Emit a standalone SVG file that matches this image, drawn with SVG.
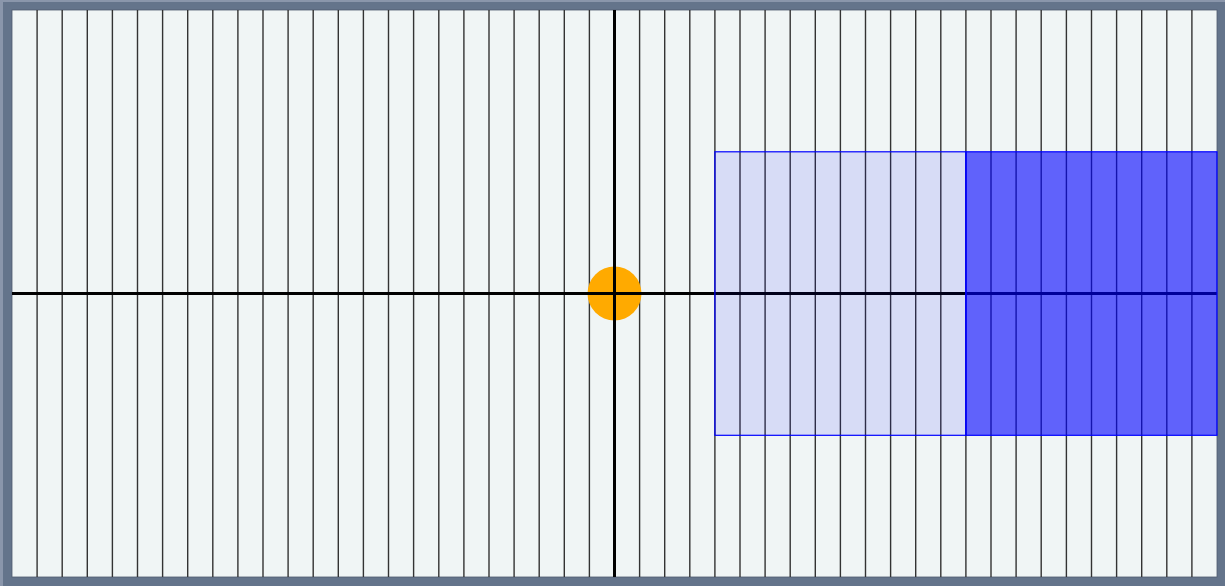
<svg xmlns="http://www.w3.org/2000/svg" width="1225" height="586" viewBox="0 0 1225 586">
<style>
.grid line{stroke:#333;stroke-width:1.4}
.axis{stroke:#000;stroke-width:3}
.zone{stroke:#0000ff;stroke-width:1.2}
</style>
<rect x="0" y="0" width="1225" height="586" fill="#8a96ab"/>
<rect x="3" y="2" width="1222" height="584" fill="#64748b"/>
<rect x="12" y="10" width="1205" height="567" fill="#f0f5f5" stroke="#4f5b6e" stroke-width="0.8"/>
<g class="grid" id="grid">
<line x1="37.1" y1="10" x2="37.1" y2="577"/>
<line x1="62.2" y1="10" x2="62.2" y2="577"/>
<line x1="87.3" y1="10" x2="87.3" y2="577"/>
<line x1="112.4" y1="10" x2="112.4" y2="577"/>
<line x1="137.5" y1="10" x2="137.5" y2="577"/>
<line x1="162.6" y1="10" x2="162.6" y2="577"/>
<line x1="187.7" y1="10" x2="187.7" y2="577"/>
<line x1="212.8" y1="10" x2="212.8" y2="577"/>
<line x1="237.9" y1="10" x2="237.9" y2="577"/>
<line x1="263.0" y1="10" x2="263.0" y2="577"/>
<line x1="288.1" y1="10" x2="288.1" y2="577"/>
<line x1="313.2" y1="10" x2="313.2" y2="577"/>
<line x1="338.3" y1="10" x2="338.3" y2="577"/>
<line x1="363.4" y1="10" x2="363.4" y2="577"/>
<line x1="388.5" y1="10" x2="388.5" y2="577"/>
<line x1="413.6" y1="10" x2="413.6" y2="577"/>
<line x1="438.8" y1="10" x2="438.8" y2="577"/>
<line x1="463.9" y1="10" x2="463.9" y2="577"/>
<line x1="489.0" y1="10" x2="489.0" y2="577"/>
<line x1="514.1" y1="10" x2="514.1" y2="577"/>
<line x1="539.2" y1="10" x2="539.2" y2="577"/>
<line x1="564.3" y1="10" x2="564.3" y2="577"/>
<line x1="589.4" y1="10" x2="589.4" y2="577"/>
<line x1="639.6" y1="10" x2="639.6" y2="577"/>
<line x1="664.7" y1="10" x2="664.7" y2="577"/>
<line x1="689.8" y1="10" x2="689.8" y2="577"/>
<line x1="714.9" y1="10" x2="714.9" y2="577"/>
<line x1="740.0" y1="10" x2="740.0" y2="577"/>
<line x1="765.1" y1="10" x2="765.1" y2="577"/>
<line x1="790.2" y1="10" x2="790.2" y2="577"/>
<line x1="815.3" y1="10" x2="815.3" y2="577"/>
<line x1="840.4" y1="10" x2="840.4" y2="577"/>
<line x1="865.5" y1="10" x2="865.5" y2="577"/>
<line x1="890.6" y1="10" x2="890.6" y2="577"/>
<line x1="915.7" y1="10" x2="915.7" y2="577"/>
<line x1="940.8" y1="10" x2="940.8" y2="577"/>
<line x1="965.9" y1="10" x2="965.9" y2="577"/>
<line x1="991.0" y1="10" x2="991.0" y2="577"/>
<line x1="1016.1" y1="10" x2="1016.1" y2="577"/>
<line x1="1041.2" y1="10" x2="1041.2" y2="577"/>
<line x1="1066.4" y1="10" x2="1066.4" y2="577"/>
<line x1="1091.5" y1="10" x2="1091.5" y2="577"/>
<line x1="1116.6" y1="10" x2="1116.6" y2="577"/>
<line x1="1141.7" y1="10" x2="1141.7" y2="577"/>
<line x1="1166.8" y1="10" x2="1166.8" y2="577"/>
<line x1="1191.9" y1="10" x2="1191.9" y2="577"/>
</g>
<g id="axes">
<line class="axis" x1="12" y1="293.5" x2="1217" y2="293.5"/>
<line class="axis" x1="614.5" y1="10" x2="614.5" y2="577"/>
</g>
<g id="zone-light">
<rect class="zone" x="714.9" y="151.8" width="251" height="283.5" fill="rgba(0,0,255,0.1)"/>
</g>
<g id="zone-dark">
<rect class="zone" x="965.9" y="151.8" width="251.1" height="283.5" fill="rgba(0,0,255,0.6)"/>
</g>
<g id="origin">
<circle cx="614.5" cy="293.5" r="27" fill="#ffaa00"/>
<line class="axis" x1="587" y1="293.5" x2="642" y2="293.5"/>
<line class="axis" x1="614.5" y1="266" x2="614.5" y2="321"/>
</g>
</svg>
